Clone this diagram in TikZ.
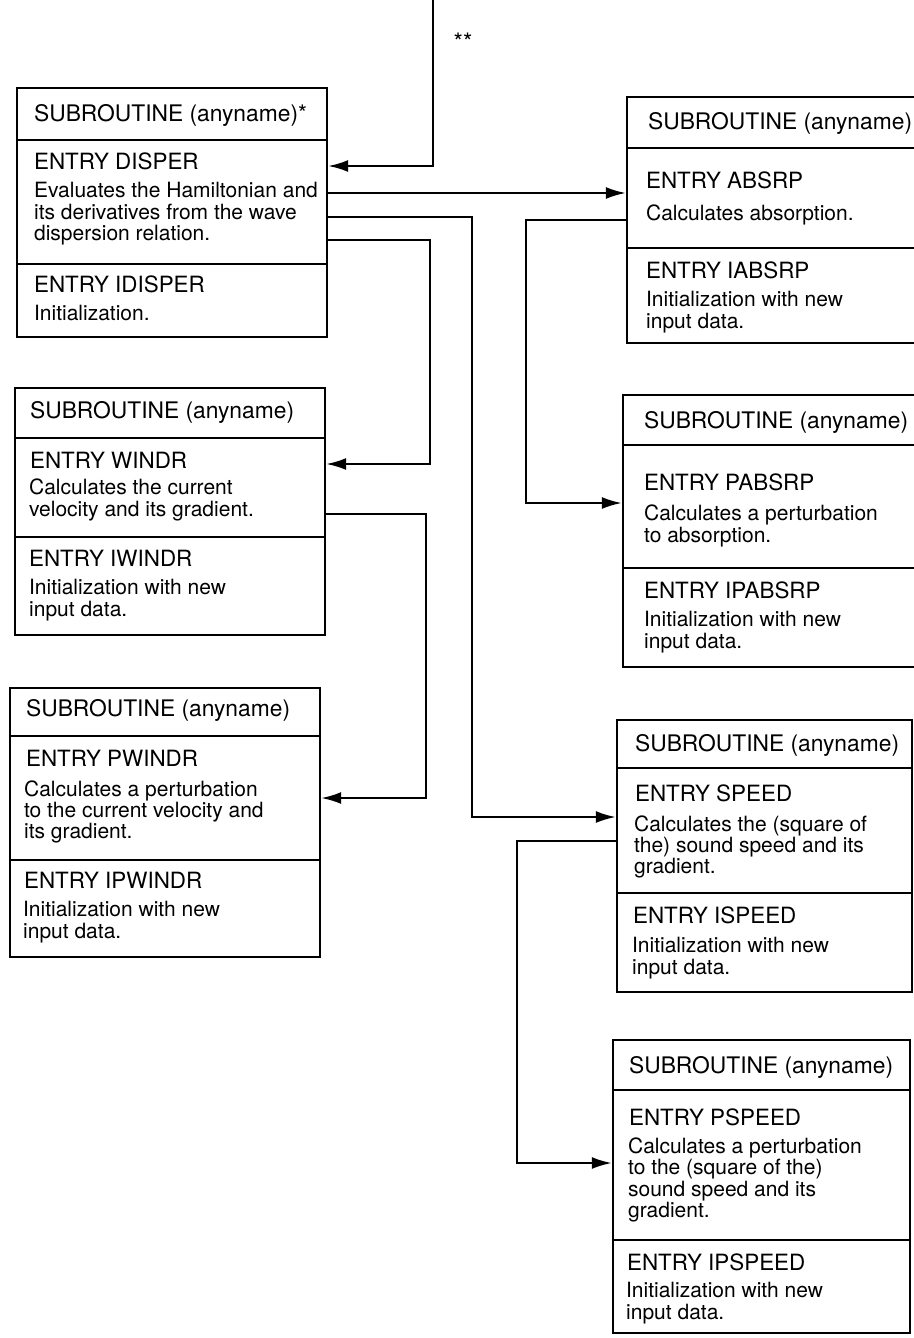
\documentclass[tikz,border=0pt]{standalone}
\usepackage{fontspec}
\setmainfont{TeX Gyre Heros}
\usetikzlibrary{arrows.meta,fit}
\begin{document}
\begin{tikzpicture}[x=0.5pt,y=-0.5pt, line width=1.1pt,
  box/.style={draw, line width=1.2pt, inner sep=0pt},
  sepline/.style={line width=1.1pt},
  arr/.style={-{Latex[length=10pt,width=6pt]}},
  sub/.style={anchor=west, inner sep=0pt, font=\fontsize{11.4}{12}\selectfont},
  ent/.style={anchor=west, inner sep=0pt, font=\fontsize{11.2}{12}\selectfont},
  dsc/.style={anchor=west, inner sep=0pt, align=left, font=\fontsize{10.5}{10.7}\selectfont}]
\useasboundingbox (0,0) rectangle (914,1338);
\clip (0,0) rectangle (914,1338);

% ---------- boxes ----------
\node[box, fit={(17,88) (327,337)}] (disper) {};
\node[box, fit={(15,388) (325,635)}] (windr) {};
\node[box, fit={(10,688) (320,957)}] (pwindr) {};
\node[box, fit={(627,97) (922,343)}] (absrp) {};
\node[box, fit={(623,395) (922,667)}] (pabsrp) {};
\node[box, fit={(617,720) (912,992)}] (speed) {};
\node[box, fit={(613,1040) (910,1333)}] (pspeed) {};

% ---------- separators ----------
\draw[sepline] (disper.west |- 0,140) -- (disper.east |- 0,140);
\draw[sepline] (disper.west |- 0,264) -- (disper.east |- 0,264);
\draw[sepline] (windr.west |- 0,438) -- (windr.east |- 0,438);
\draw[sepline] (windr.west |- 0,537) -- (windr.east |- 0,537);
\draw[sepline] (pwindr.west |- 0,736) -- (pwindr.east |- 0,736);
\draw[sepline] (pwindr.west |- 0,860) -- (pwindr.east |- 0,860);
\draw[sepline] (absrp.west |- 0,148) -- (absrp.east |- 0,148);
\draw[sepline] (absrp.west |- 0,248) -- (absrp.east |- 0,248);
\draw[sepline] (pabsrp.west |- 0,445) -- (pabsrp.east |- 0,445);
\draw[sepline] (pabsrp.west |- 0,568) -- (pabsrp.east |- 0,568);
\draw[sepline] (speed.west |- 0,768) -- (speed.east |- 0,768);
\draw[sepline] (speed.west |- 0,893) -- (speed.east |- 0,893);
\draw[sepline] (pspeed.west |- 0,1090) -- (pspeed.east |- 0,1090);
\draw[sepline] (pspeed.west |- 0,1240) -- (pspeed.east |- 0,1240);

% ---------- texts ----------
\node[sub] (t1a) at (33,115) {SUBROUTINE (anyname)*};
\node[ent] (t1b) at (33,161) {ENTRY DISPER};
\node[dsc] (t1c) at (33,214) {Evaluates the Hamiltonian and\\its derivatives from the wave\\dispersion relation.};
\node[ent] (t1d) at (33,284) {ENTRY IDISPER};
\node[dsc] (t1e) at (33,313) {Initialization.};

\node[sub] (t2a) at (29,412) {SUBROUTINE (anyname)};
\node[ent] (t2b) at (29,460) {ENTRY WINDR};
\node[dsc] (t2c) at (28,500) {Calculates the current\\velocity and its gradient.};
\node[ent] (t2d) at (28,558) {ENTRY IWINDR};
\node[dsc] (t2e) at (28,600) {Initialization with new\\input data.};

\node[sub] (t3a) at (25,710) {SUBROUTINE (anyname)};
\node[ent] (t3b) at (25,758) {ENTRY PWINDR};
\node[dsc] (t3c) at (23,812) {Calculates a perturbation\\to the current velocity and\\its gradient.};
\node[ent] (t3d) at (23,880) {ENTRY IPWINDR};
\node[dsc] (t3e) at (22,922) {Initialization with new\\input data.};

\node[sub] (t4a) at (647,123) {SUBROUTINE (anyname)};
\node[ent] (t4b) at (645,180) {ENTRY ABSRP};
\node[dsc] (t4c) at (645,215) {Calculates absorption.};
\node[ent] (t4d) at (645,270) {ENTRY IABSRP};
\node[dsc] (t4e) at (645,312) {Initialization with new\\input data.};

\node[sub] (t5a) at (643,422) {SUBROUTINE (anyname)};
\node[ent] (t5b) at (643,482) {ENTRY PABSRP};
\node[dsc] (t5c) at (643,526) {Calculates a perturbation\\to absorption.};
\node[ent] (t5d) at (643,590) {ENTRY IPABSRP};
\node[dsc] (t5e) at (643,632) {Initialization with new\\input data.};

\node[sub] (t6a) at (634,745) {SUBROUTINE (anyname)};
\node[ent] (t6b) at (634,793) {ENTRY SPEED};
\node[dsc] (t6c) at (633,847) {Calculates the (square of\\the) sound speed and its\\gradient.};
\node[ent] (t6d) at (632,915) {ENTRY ISPEED};
\node[dsc] (t6e) at (631,958) {Initialization with new\\input data.};

\node[sub] (t7a) at (628,1067) {SUBROUTINE (anyname)};
\node[ent] (t7b) at (628,1117) {ENTRY PSPEED};
\node[dsc] (t7c) at (627,1180) {Calculates a perturbation\\to the (square of the)\\sound speed and its\\gradient.};
\node[ent] (t7d) at (626,1262) {ENTRY IPSPEED};
\node[dsc] (t7e) at (625,1303) {Initialization with new\\input data.};

% ---------- connectors ----------
\coordinate (top) at (433,0);
\node[font=\fontsize{12}{12}\selectfont, inner sep=0pt] (stars) at (463,42) {**};
\draw[arr] (top) |- (disper.east |- 0,166);
\draw[arr] (disper.east |- 0,193) -- (absrp.west |- 0,193);
\draw[arr] (disper.east |- 0,217) -- (472,217) |- (speed.west |- 0,817);
\draw[arr] (disper.east |- 0,240) -- (430,240) |- (windr.east |- 0,464);
\draw[arr] (absrp.west |- 0,220) -- (526,220) |- (pabsrp.west |- 0,503);
\draw[arr] (windr.east |- 0,514) -- (426,514) |- (pwindr.east |- 0,798);
\draw[arr] (speed.west |- 0,841) -- (517,841) |- (pspeed.west |- 0,1163);
\end{tikzpicture}
\end{document}
